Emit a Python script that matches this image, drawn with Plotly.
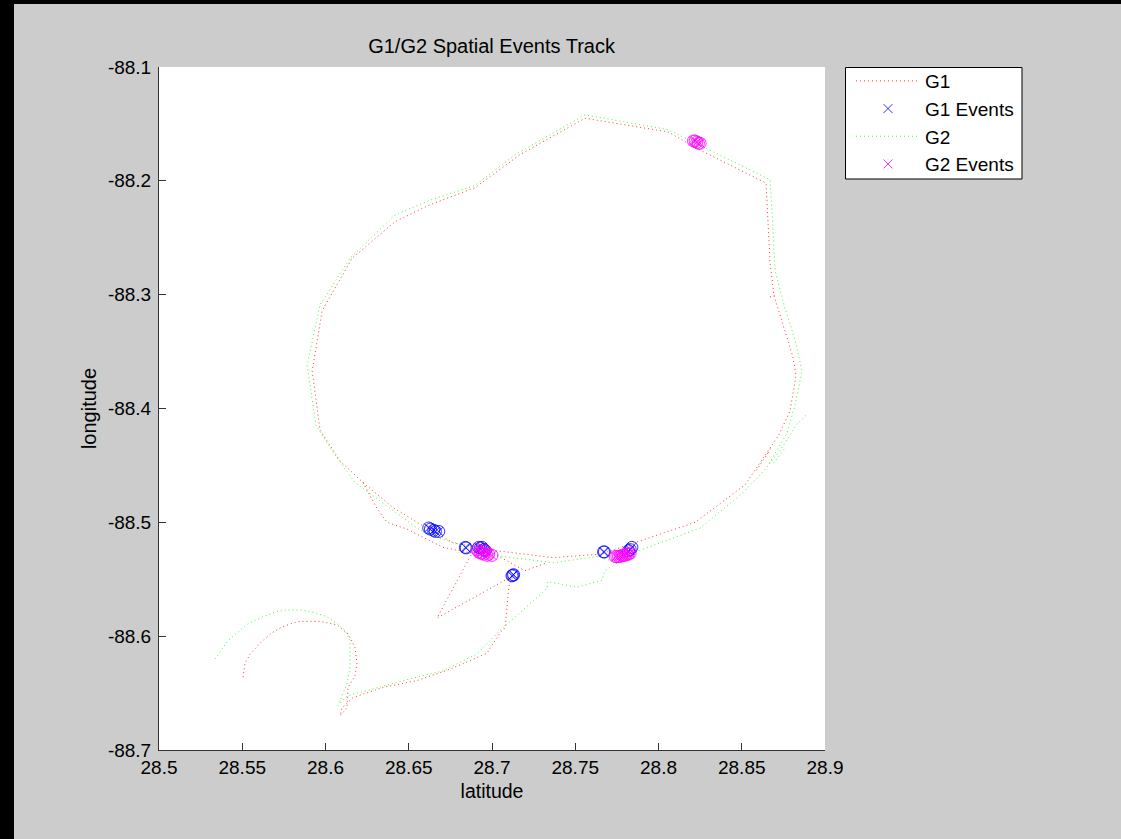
import plotly.graph_objects as go

g1_lat = [28.5505,28.5516,28.5547,28.5607,28.5679,28.5739,28.5793,28.5847,28.5967,28.6069,28.6135,28.6177,28.6189,28.6177,28.6135,28.6129,28.6087,28.6099,28.6165,28.6345,28.655,28.6748,28.697,28.7048,28.7078,28.7102,28.7126,28.667,28.688,28.6706,28.649,28.637,28.631,28.6225,28.6087,28.5967,28.592,28.598,28.616,28.6417,28.6628,28.6898,28.7168,28.7558,28.8057,28.825,28.8646,28.8658,28.867,28.8694,28.8742,28.8808,28.8826,28.879,28.8724,28.852,28.822,28.789,28.765,28.7366,28.703,28.6766,28.655,28.6405,28.6225,
          None,28.867,28.8697,None,28.8658,28.868,None,28.8658,28.858,None,28.703,28.7198,28.733]
g1_lon = [-88.636,-88.624,-88.616,-88.606,-88.597,-88.592,-88.589,-88.587,-88.587,-88.590,-88.598,-88.610,-88.624,-88.635,-88.645,-88.663,-88.670,-88.663,-88.654,-88.645,-88.639,-88.629,-88.615,-88.597,-88.593,-88.556,-88.547,-88.584,-88.527,-88.522,-88.506,-88.500,-88.488,-88.465,-88.446,-88.419,-88.367,-88.314,-88.268,-88.236,-88.221,-88.206,-88.177,-88.145,-88.157,-88.173,-88.202,-88.241,-88.272,-88.301,-88.323,-88.355,-88.371,-88.402,-88.423,-88.467,-88.500,-88.516,-88.528,-88.531,-88.525,-88.518,-88.500,-88.487,-88.465,
          None,-88.302,-88.3006,None,-88.439,-88.433,None,-88.439,-88.456,None,-88.529,-88.5425,-88.5355]

g2_lat = [28.5336,28.5414,28.5462,28.5535,28.5607,28.5685,28.5745,28.5865,28.5949,28.601,28.6069,28.6117,28.6147,28.6147,28.6129,28.6075,28.6129,28.631,28.6507,28.6706,28.691,28.7048,28.715,28.733,28.7336,28.751,28.766,28.7678,28.7757,28.763,28.7366,28.7066,28.6808,28.667,28.6568,28.6177,28.6057,28.5943,28.589,28.5967,28.6147,28.6417,28.6628,28.6898,28.714,28.7558,28.8057,28.825,28.867,28.8688,28.87,28.876,28.882,28.8862,28.882,28.877,28.865,28.8507,28.825,28.801,28.7847,28.7757,
          None,28.8886,28.883,28.873,28.8658,None,28.8754,28.868]
g2_lon = [-88.620,-88.604,-88.598,-88.589,-88.584,-88.5795,-88.577,-88.577,-88.580,-88.583,-88.589,-88.595,-88.604,-88.628,-88.642,-88.661,-88.6525,-88.645,-88.6375,-88.6305,-88.6155,-88.595,-88.582,-88.558,-88.552,-88.557,-88.551,-88.5425,-88.5355,-88.530,-88.5355,-88.530,-88.519,-88.5135,-88.507,-88.465,-88.441,-88.415,-88.362,-88.309,-88.268,-88.230,-88.217,-88.204,-88.177,-88.142,-88.155,-88.169,-88.199,-88.243,-88.279,-88.312,-88.340,-88.367,-88.397,-88.422,-88.452,-88.474,-88.505,-88.518,-88.527,-88.529,
          None,-88.406,-88.414,-88.437,-88.450,None,-88.436,-88.450]

g1_event_lat = [28.662,28.663,28.665,28.666,28.668,28.684,28.6845,28.692,28.693,28.694,28.695,28.696,28.712,28.7125,28.713,28.767,28.7675,28.782,28.783,28.784]
g1_event_lon = [-88.505,-88.506,-88.507,-88.508,-88.508,-88.522,-88.5225,-88.522,-88.5225,-88.522,-88.524,-88.525,-88.547,-88.5465,-88.546,-88.526,-88.526,-88.525,-88.524,-88.522]
g2_event_lat = [28.691,28.692,28.693,28.694,28.695,28.696,28.697,28.698,28.700,28.774,28.775,28.776,28.777,28.778,28.779,28.780,28.781,28.782,28.783,28.821,28.822,28.823,28.824,28.825]
g2_event_lon = [-88.524,-88.526,-88.527,-88.527,-88.528,-88.525,-88.529,-88.528,-88.529,-88.530,-88.530,-88.530,-88.530,-88.529,-88.529,-88.529,-88.528,-88.528,-88.527,-88.165,-88.165,-88.166,-88.167,-88.167]

x_ticks = [28.5,28.55,28.6,28.65,28.7,28.75,28.8,28.85,28.9]
x_labels = ["28.5","28.55","28.6","28.65","28.7","28.75","28.8","28.85","28.9"]
y_ticks = [-88.1,-88.2,-88.3,-88.4,-88.5,-88.6,-88.7]
y_labels = ["-88.1","-88.2","-88.3","-88.4","-88.5","-88.6","-88.7"]

FONT = "Liberation Sans"
DOTS = "1px,3px"
fig = go.Figure()
fig.add_trace(go.Scatter(x=g1_lat, y=g1_lon, mode="lines", name="G1", line=dict(color="#ff0000", width=0.8, dash=DOTS)))
fig.add_trace(go.Scatter(x=g1_event_lat, y=g1_event_lon, mode="markers", name="G1 Events",
                         marker=dict(symbol="x-thin", size=9, color="#0000ff", line=dict(color="#0000ff", width=0.8))))
fig.add_trace(go.Scatter(x=g1_event_lat, y=g1_event_lon, mode="markers", showlegend=False, name="G1 Events",
                         marker=dict(symbol="circle-open", size=12, color="#0000ff", line=dict(width=0.8))))
fig.add_trace(go.Scatter(x=g2_lat, y=g2_lon, mode="lines", name="G2", line=dict(color="#00ff00", width=0.8, dash=DOTS)))
fig.add_trace(go.Scatter(x=g2_event_lat, y=g2_event_lon, mode="markers", name="G2 Events",
                         marker=dict(symbol="x-thin", size=9, color="#ff00ff", line=dict(color="#ff00ff", width=0.8))))
fig.add_trace(go.Scatter(x=g2_event_lat, y=g2_event_lon, mode="markers", showlegend=False, name="G2 Events",
                         marker=dict(symbol="circle-open", size=12, color="#ff00ff", line=dict(width=0.8))))

fig.update_layout(
    width=1121, height=839, autosize=False,
    margin=dict(l=159, r=296, t=67, b=89, pad=0),
    paper_bgcolor="#cccccc", plot_bgcolor="#ffffff",
    font=dict(family=FONT, size=19, color="#000000"),
    title=dict(text="G1/G2 Spatial Events Track", x=0.4385, xanchor="center", y=0.945, yanchor="middle",
               font=dict(family=FONT, size=20)),
    legend=dict(x=(851-159)/666, y=1+5/683, xanchor="left", yanchor="top", bgcolor="rgba(0,0,0,0)",
                borderwidth=0, font=dict(family=FONT, size=19), tracegroupgap=0, itemwidth=64),
    showlegend=True,
    xaxis=dict(range=[28.5,28.9], tickmode="array", tickvals=x_ticks, ticktext=x_labels, ticks="inside", ticklen=7,
               tickwidth=1, tickcolor="#333333", showgrid=False, zeroline=False, showline=True, linecolor="#333333",
               linewidth=1, title=dict(text="latitude", font=dict(family=FONT, size=19.5), standoff=7), mirror=False),
    yaxis=dict(range=[-88.7,-88.1], tickmode="array", tickvals=y_ticks, ticktext=y_labels, ticks="inside", ticklen=7,
               tickwidth=1, tickcolor="#333333", showgrid=False, zeroline=False, showline=True, linecolor="#333333",
               linewidth=1, ticklabelstandoff=3,
               title=dict(text="longitude", font=dict(family=FONT, size=20), standoff=5), mirror=False),
    shapes=[
        dict(type="rect", xref="paper", yref="paper", x0=-159/666, x1=-145/666, y0=-89/683, y1=750/683,
             fillcolor="#000000", line_width=0, layer="below"),
        dict(type="rect", xref="paper", yref="paper", x0=-159/666, x1=962/666, y0=746/683, y1=750/683,
             fillcolor="#000000", line_width=0, layer="below"),
        dict(type="rect", xref="paper", yref="paper", x0=(845.5-159)/666, x1=(1022-159)/666,
             y0=(750-179)/683, y1=(750-67.5)/683, fillcolor="#ffffff", line=dict(color="#000000", width=1), layer="below"),
    ],
)
fig.write_html("out.html", config={"displayModeBar": False}, post_script="document.body.style.margin='0';")
